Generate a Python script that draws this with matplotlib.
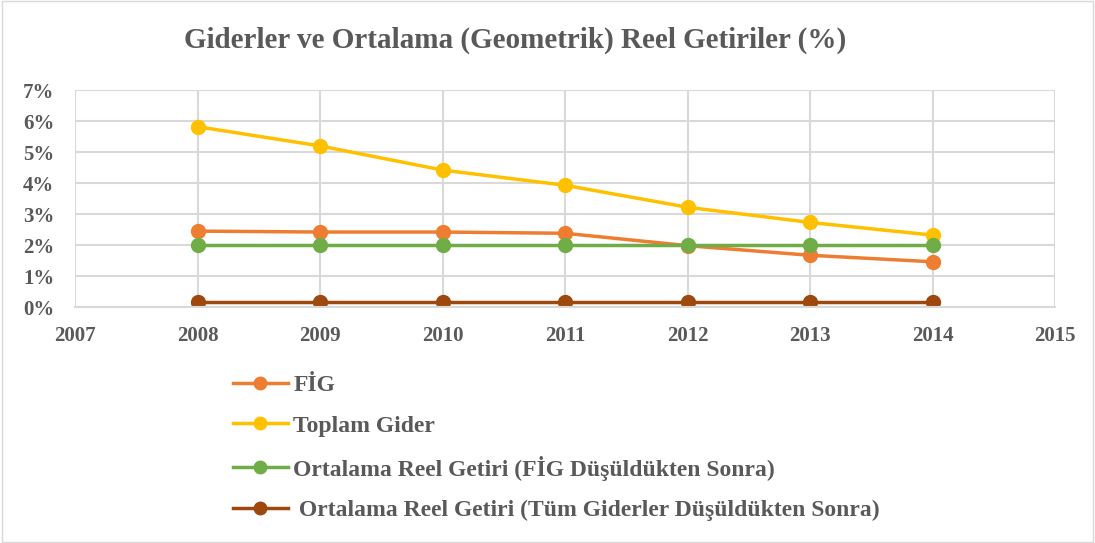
import matplotlib.pyplot as plt
from matplotlib.ticker import FuncFormatter

years = [2008, 2009, 2010, 2011, 2012, 2013, 2014]
fig_vals = [2.45, 2.42, 2.42, 2.38, 1.98, 1.67, 1.46]
toplam_gider = [5.82, 5.2, 4.42, 3.93, 3.22, 2.73, 2.32]
getiri_fig = [2.0, 2.0, 2.0, 2.0, 2.0, 2.0, 2.0]
getiri_tum = [0.15, 0.15, 0.15, 0.15, 0.15, 0.15, 0.15]

labels = [
    "FİG",
    "Toplam Gider",
    "Ortalama Reel Getiri (FİG Düşüldükten Sonra)",
    " Ortalama Reel Getiri (Tüm Giderler Düşüldükten Sonra)",
]
colors = ["#ed7d31", "#ffc000", "#70ad47", "#9e480e"]
series = [fig_vals, toplam_gider, getiri_fig, getiri_tum]

plt.rcParams["font.family"] = ["Liberation Serif", "DejaVu Serif"]
plt.rcParams["font.weight"] = "bold"
text_color = "#595959"

fig = plt.figure(figsize=(10.95, 5.43), dpi=100)
ax = fig.add_axes([0.0685, 0.4346, 0.895, 0.3994])

for vals, c, lab in zip(series, colors, labels):
    ax.plot(years, vals, color=c, lw=2.5, marker="o", ms=10, label=lab)

ax.set_xlim(2007, 2015)
ax.set_ylim(0, 7)
ax.set_xticks(range(2007, 2016))
ax.set_yticks(range(0, 8))
ax.yaxis.set_major_formatter(FuncFormatter(lambda v, p: f"{int(v)}%"))
ax.grid(True, color="#d9d9d9", lw=1.5)
ax.set_axisbelow(True)
for s in ["top", "right", "left"]:
    ax.spines[s].set_visible(False)
ax.spines["bottom"].set_color("#d9d9d9")
ax.spines["bottom"].set_linewidth(1.5)
ax.tick_params(length=0, colors=text_color, labelsize=15)
ax.tick_params(axis="x", pad=14)
ax.tick_params(axis="y", pad=15)
for t in ax.get_xticklabels() + ax.get_yticklabels():
    t.set_fontweight("bold")

fig.text(0.47, 0.926, "Giderler ve Ortalama (Geometrik) Reel Getiriler (%)",
         ha="center", va="center", fontsize=21, fontweight="bold", color=text_color)

leg = fig.legend(loc="upper left", bbox_to_anchor=(0.213, 0.31), frameon=False,
                 fontsize=17, labelspacing=0.8, handlelength=2.3, handletextpad=0.25,
                 borderpad=0, borderaxespad=0, labelcolor=text_color, markerscale=0.9)
for t in leg.get_texts():
    t.set_fontweight("bold")

fig.patches.append(plt.Rectangle((0.002, 0.002), 0.996, 0.996, transform=fig.transFigure,
                                 fill=False, edgecolor="#d9d9d9", lw=1))

plt.savefig("out.png")
